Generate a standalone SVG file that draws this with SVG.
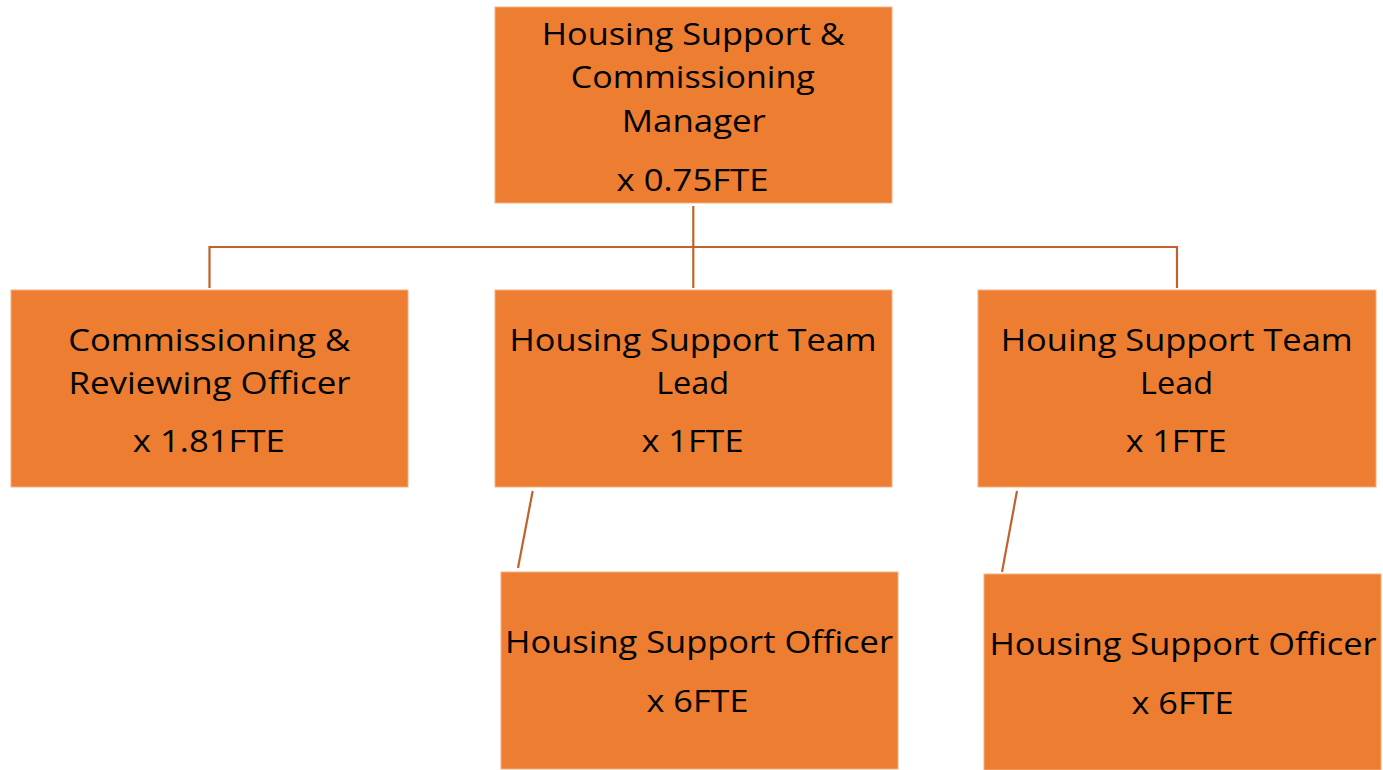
<svg xmlns="http://www.w3.org/2000/svg" width="1383" height="770" viewBox="0 0 1383 770">
<style>
.box{fill:#ED7D31;stroke:#F4B183;stroke-width:1}
.t{font-family:"Open Sans","Noto Sans","Liberation Sans",sans-serif;font-size:30.5px;fill:#000;text-anchor:middle}
.c{stroke:#C0622A;stroke-width:2.2;fill:none}
</style>
<rect width="1383" height="770" fill="#fff"/>
<g id="connectors">
<line class="c" x1="693.3" y1="206" x2="693.3" y2="288"/>
<polyline class="c" points="209.5,288 209.5,247 1177,247 1177,288"/>
<line class="c" x1="532.7" y1="491" x2="518" y2="568"/>
<line class="c" x1="1017" y1="491" x2="1002" y2="572"/>
</g>
<g id="manager">
<rect class="box" x="495" y="7" width="397" height="196"/>
<text class="t" x="693.3" y="45" textLength="303" lengthAdjust="spacingAndGlyphs">Housing Support &amp;</text>
<text class="t" x="692.8" y="88.3" textLength="244" lengthAdjust="spacingAndGlyphs">Commissioning</text>
<text class="t" x="693.8" y="131.5" textLength="144" lengthAdjust="spacingAndGlyphs">Manager</text>
<text class="t" x="692.5" y="190.5" textLength="152" lengthAdjust="spacingAndGlyphs">x 0.75FTE</text>
</g>
<g id="commissioning-officer">
<rect class="box" x="11" y="290" width="397" height="197"/>
<text class="t" x="209.2" y="350.5" textLength="282" lengthAdjust="spacingAndGlyphs">Commissioning &amp;</text>
<text class="t" x="209.5" y="394" textLength="282" lengthAdjust="spacingAndGlyphs">Reviewing Officer</text>
<text class="t" x="208.8" y="451.7" textLength="152" lengthAdjust="spacingAndGlyphs">x 1.81FTE</text>
</g>
<g id="team-lead-1">
<rect class="box" x="495" y="290" width="397" height="197"/>
<text class="t" x="693" y="350.5" textLength="367" lengthAdjust="spacingAndGlyphs">Housing Support Team</text>
<text class="t" x="692.7" y="394" textLength="73" lengthAdjust="spacingAndGlyphs">Lead</text>
<text class="t" x="692.5" y="451.7" textLength="102" lengthAdjust="spacingAndGlyphs">x 1FTE</text>
</g>
<g id="team-lead-2">
<rect class="box" x="978" y="290" width="398" height="197"/>
<text class="t" x="1176.7" y="350.5" textLength="352" lengthAdjust="spacingAndGlyphs">Houing Support Team</text>
<text class="t" x="1176.5" y="394" textLength="73" lengthAdjust="spacingAndGlyphs">Lead</text>
<text class="t" x="1176.2" y="451.7" textLength="101" lengthAdjust="spacingAndGlyphs">x 1FTE</text>
</g>
<g id="officer-1">
<rect class="box" x="501" y="572" width="397" height="197"/>
<text class="t" x="699" y="653" textLength="388" lengthAdjust="spacingAndGlyphs">Housing Support Officer</text>
<text class="t" x="697.5" y="712" textLength="102" lengthAdjust="spacingAndGlyphs">x 6FTE</text>
</g>
<g id="officer-2">
<rect class="box" x="984" y="574" width="397" height="196"/>
<text class="t" x="1183" y="655" textLength="387" lengthAdjust="spacingAndGlyphs">Housing Support Officer</text>
<text class="t" x="1182.5" y="714" textLength="102" lengthAdjust="spacingAndGlyphs">x 6FTE</text>
</g>
</svg>
